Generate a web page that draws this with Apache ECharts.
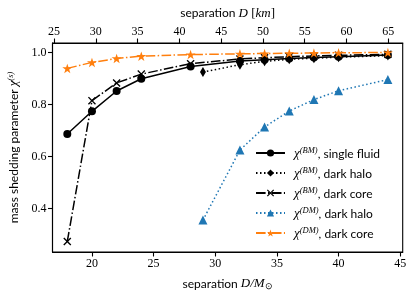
<!DOCTYPE html>
<html><head><meta charset="utf-8">
<script src="https://cdn.jsdelivr.net/npm/echarts@6/dist/echarts.min.js"></script>
<style>html,body{margin:0;padding:0;background:#fff}#c{width:415px;height:299px}</style>
</head><body><div id="c"></div>
<script>
const KM_PER_MSUN = 1.4766;
const xsFull = [18, 20, 22, 24, 28, 32, 34, 36, 38, 40, 44];
const xsHalo = [29, 32, 34, 36, 38, 40, 44];
const singleFluid = [0.687, 0.774, 0.852, 0.899, 0.946, 0.967, 0.972, 0.977, 0.981, 0.984, 0.990];
const bmDarkHalo = [0.925, 0.953, 0.966, 0.974, 0.978, 0.982, 0.988];
const bmDarkCore = [0.274, 0.815, 0.883, 0.917, 0.957, 0.975, 0.980, 0.984, 0.987, 0.989, 0.993];
const dmDarkHalo = [0.356, 0.625, 0.714, 0.775, 0.819, 0.853, 0.896];
const dmDarkCore = [0.939, 0.962, 0.977, 0.986, 0.992, 0.995, 0.996, 0.997, 0.998, 0.999, 1.000];
const bottomTicks = [20, 25, 30, 35, 40, 45];
const topTicks = [25, 30, 35, 40, 45, 50, 55, 60, 65];
const yTicks = [0.4, 0.6, 0.8, 1.0];
const xMin = 16.8, xMax = 45.2, yMin = 0.2335, yMax = 1.0365;

const pair = (xs, ys) => xs.map((x, i) => [x, ys[i]]);
const SERIF = '"Liberation Serif", serif';
const SANS = 'Lato, "Liberation Sans", sans-serif';
const starPath = 'path://M0,-1 L0.2245,-0.309 L0.951,-0.309 L0.363,0.118 L0.588,0.809 L0,0.382 L-0.588,0.809 L-0.363,0.118 L-0.951,-0.309 L-0.2245,-0.309 Z';
const xPath = 'path://M0,12 L12,0 L50,38 L88,0 L100,12 L62,50 L100,88 L88,100 L50,62 L12,100 L0,88 L38,50 Z';
const LW = 1.5;
const dashdot = [9.6, 2.4, 1.5, 2.4];
const dotted = [1.5, 2.5];

const richLegend = {
  chi: {fontFamily: SERIF, fontStyle: 'italic', fontSize: 13, lineHeight: 14, verticalAlign: 'bottom', color: '#000', padding: [0, 0, 0, 4]},
  sup: {fontFamily: SERIF, fontStyle: 'italic', fontSize: 8.5, lineHeight: 9, verticalAlign: 'top', color: '#000'},
  t: {fontFamily: SANS, fontSize: 12, lineHeight: 14, verticalAlign: 'bottom', color: '#000'}
};
const names = {
  sf: 'χ(BM), single fluid', bh: 'χ(BM), dark halo', bc: 'χ(BM), dark core',
  dh: 'χ(DM), dark halo', dc: 'χ(DM), dark core'
};
function legendFmt(n) {
  const m = n.match(/^χ\((\w+)\), (.*)$/);
  return '{chi|χ}{sup|(' + m[1] + ')}{t|, ' + m[2] + '}';
}

const chart = echarts.init(document.getElementById('c'), null, {renderer: 'canvas'});
chart.setOption({
  animation: false,
  backgroundColor: '#fff',
  grid: {left: 52.5, right: 12.3, top: 43, bottom: 47, containLabel: false, outerBoundsMode: 'none',
         show: true, borderColor: '#000', borderWidth: 1.1, backgroundColor: 'transparent'},
  xAxis: [
    {
      type: 'value', position: 'bottom', min: xMin, max: xMax,
      name: '{t|separation }{it|D/M}{sub|⊙}', nameLocation: 'middle', nameGap: 25,
      nameTextStyle: {rich: {
        t: {fontFamily: SANS, fontSize: 12, color: '#000', lineHeight: 14, verticalAlign: 'middle'},
        it: {fontFamily: SERIF, fontStyle: 'italic', fontSize: 13, color: '#000', lineHeight: 14, verticalAlign: 'middle'},
        sub: {fontFamily: SERIF, fontSize: 9, color: '#000', lineHeight: 9, verticalAlign: 'bottom', padding: [6, 0, 0, 0]}
      }},
      axisLine: {show: true, onZero: false, lineStyle: {color: '#000', width: 1.1}},
      axisTick: {show: true, customValues: bottomTicks, length: 4.5, lineStyle: {color: '#000', width: 1.1}},
      axisLabel: {customValues: bottomTicks, fontFamily: SERIF, fontSize: 12, color: '#000', margin: 6, formatter: v => String(v)},
      splitLine: {show: false}
    },
    {
      type: 'value', position: 'top', min: xMin * KM_PER_MSUN, max: xMax * KM_PER_MSUN,
      name: '{t|separation }{it|D }{t2|[}{it|km}{t2|]}', nameLocation: 'middle', nameGap: 23,
      nameTextStyle: {rich: {
        t: {fontFamily: SANS, fontSize: 12, color: '#000'},
        it: {fontFamily: SERIF, fontStyle: 'italic', fontSize: 13, color: '#000'},
        t2: {fontFamily: SERIF, fontSize: 13, color: '#000'}
      }},
      axisLine: {show: true, onZero: false, lineStyle: {color: '#000', width: 1.1}},
      axisTick: {show: true, customValues: topTicks, length: 4.5, lineStyle: {color: '#000', width: 1.1}},
      axisLabel: {customValues: topTicks, fontFamily: SERIF, fontSize: 12, color: '#000', margin: 5, formatter: v => String(v)},
      splitLine: {show: false}
    }
  ],
  yAxis: {
    type: 'value', min: yMin, max: yMax,
    name: '{t|mass shedding parameter }{chi|χ}{sup|(s)}', nameLocation: 'middle', nameGap: 32,
    nameTextStyle: {rich: {
      t: {fontFamily: SANS, fontSize: 12, color: '#000', lineHeight: 14, verticalAlign: 'bottom'},
      chi: {fontFamily: SERIF, fontStyle: 'italic', fontSize: 13, color: '#000', lineHeight: 14, verticalAlign: 'bottom'},
      sup: {fontFamily: SERIF, fontStyle: 'italic', fontSize: 8.5, color: '#000', lineHeight: 9, verticalAlign: 'top'}
    }},
    axisLine: {show: true, onZero: false, lineStyle: {color: '#000', width: 1.1}},
    axisTick: {show: true, customValues: yTicks, length: 4.5, lineStyle: {color: '#000', width: 1.1}},
    axisLabel: {customValues: yTicks, fontFamily: SERIF, fontSize: 12, color: '#000', margin: 6, formatter: v => v.toFixed(1)},
    splitLine: {show: false}
  },
  legend: {
    orient: 'vertical', left: 250, top: 141, itemWidth: 29, itemHeight: 9, itemGap: 6,
    padding: 5, formatter: legendFmt, textStyle: {rich: richLegend},
    data: [names.sf, names.bh, names.bc, names.dh, names.dc]
  },
  series: [
    {name: names.sf, type: 'line', data: pair(xsFull, singleFluid), symbol: 'circle', symbolSize: 8,
     lineStyle: {color: '#000', width: LW}, itemStyle: {color: '#000'}},
    {name: names.bh, type: 'line', data: pair(xsHalo, bmDarkHalo), symbol: 'diamond', symbolSize: [6, 10],
     lineStyle: {color: '#000', width: LW, type: dotted}, itemStyle: {color: '#000'}},
    {name: names.bc, type: 'line', data: pair(xsFull, bmDarkCore), symbol: xPath, symbolSize: 8,
     lineStyle: {color: '#000', width: LW, type: dashdot}, itemStyle: {color: '#000'}},
    {name: names.dh, type: 'line', data: pair(xsHalo, dmDarkHalo), symbol: 'triangle', symbolSize: 9,
     lineStyle: {color: '#1f77b4', width: LW, type: dotted}, itemStyle: {color: '#1f77b4'}},
    {name: names.dc, type: 'line', data: pair(xsFull, dmDarkCore), symbol: starPath, symbolSize: [10, 9.5],
     lineStyle: {color: '#ff7f0e', width: LW, type: dashdot}, itemStyle: {color: '#ff7f0e'}}
  ]
});
</script></body></html>
